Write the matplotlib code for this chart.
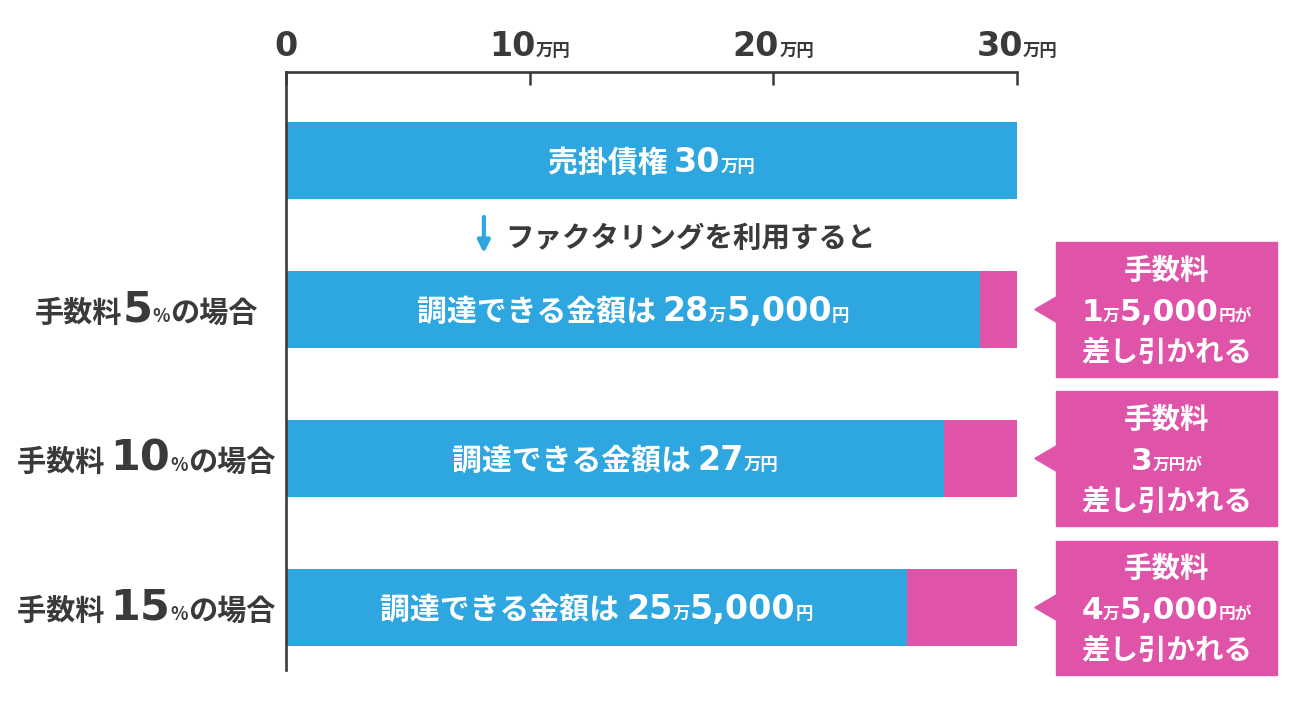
import matplotlib.pyplot as plt
from matplotlib.patches import Rectangle, Polygon
from matplotlib.transforms import offset_copy

plt.rcParams['font.family'] = ['Noto Sans CJK JP', 'DejaVu Sans']

# data
categories = ['売掛債権', '手数料5%の場合', '手数料10%の場合', '手数料15%の場合']
received = [30, 28.5, 27, 25.5]
fee_amount = [0, 1.5, 3, 4.5]
fee_rates = [None, 5, 10, 15]
tick_values = [0, 10, 20, 30]

blue = '#2ea6df'
pink = '#df53a8'
dark = '#3a3a3a'
JP = ['Noto Sans CJK JP', 'DejaVu Sans']
NUM = ['DejaVu Sans']

fig = plt.figure(figsize=(13, 7.02), dpi=100)
ax = fig.add_axes([286 / 1300, 1 - 670 / 702, (1017 - 286) / 1300, (670 - 72) / 702])
renderer = fig.canvas.get_renderer()

ys = list(range(len(categories)))
ax.barh(ys, received, height=0.517, color=blue, zorder=2)
ax.barh(ys, fee_amount, left=received, height=0.517, color=pink, zorder=2)

ax.set_xlim(0, 30)
ax.set_ylim(3.419, -0.594)
ax.xaxis.tick_top()
ax.set_xticks(tick_values)
ax.set_yticks([])
ax.tick_params(axis='x', direction='in', length=9, width=1.8, colors=dark, labeltop=False)
for s in ['bottom', 'right']:
    ax.spines[s].set_visible(False)
for s in ['top', 'left']:
    ax.spines[s].set_color(dark)
    ax.spines[s].set_linewidth(1.9)


def put_runs(x, y, parts, color, trans, ha='center', dy=0):
    texts = []
    for s, size, fam, wt in parts:
        t = ax.text(x, y, s, fontsize=size, color=color, fontweight=wt, family=fam,
                    va='baseline', ha='left', transform=trans, clip_on=False, zorder=5)
        texts.append(t)
    widths = [t.get_window_extent(renderer).width for t in texts]
    total = sum(widths)
    start = {'center': -total / 2, 'left': 0, 'right': -total}[ha]
    for t, w in zip(texts, widths):
        t.set_transform(offset_copy(trans, fig=fig, x=start, y=dy, units='dots'))
        start += w


def yen_parts(v, big, small, tail='円', wt='bold'):
    man = int(v)
    rest = int(round((v - man) * 10000))
    if rest:
        return [(str(man), big, NUM, wt), ('万', small, JP, 'bold'),
                (f'{rest:,}', big, NUM, wt), (tail, small, JP, 'bold')]
    return [(str(man), big, NUM, wt), ('万' + tail, small, JP, 'bold')]


# top tick labels
xt = ax.get_xaxis_transform()
for v in tick_values:
    if v == 0:
        parts = [('0', 24, NUM, 'bold')]
    else:
        parts = [(str(v), 24, NUM, 'bold'), ('万円', 12.5, JP, 'bold')]
    put_runs(v, 1, parts, dark, xt, dy=16)

# bar labels
for i, (cat, r) in enumerate(zip(categories, received)):
    if i == 0:
        parts = [(cat + ' ', 21.5, JP, 'bold')] + yen_parts(r, 24, 12.5)
    else:
        parts = [('調達できる金額は ', 21.5, JP, 'bold')] + yen_parts(r, 24, 12.5)
    put_runs(r / 2, i, parts, 'white', ax.transData, dy=-11)

# left category labels
for i, rate in enumerate(fee_rates):
    if rate is None:
        continue
    sp = ' ' if rate >= 10 else ''
    parts = [('手数料' + sp, 21, JP, 'bold'), (str(rate), 31, NUM, 'bold'),
             ('%', 13, JP, 'bold'), ('の場合', 21, JP, 'bold')]
    put_runs(-5.75, i, parts, dark, ax.transData, dy=-12)

# arrow + text between first rows
ax.annotate('', xy=(8.12, 0.64), xytext=(8.12, 0.36),
            arrowprops=dict(arrowstyle='-|>', color=blue, lw=3, mutation_scale=18),
            annotation_clip=False)
put_runs(9.0, 0.51, [('ファクタリングを利用すると', 20.5, JP, 'bold')], dark, ax.transData,
         ha='left', dy=-10)

# callouts
for i, f in enumerate(fee_amount):
    if f == 0:
        continue
    box = Rectangle((31.6, i - 0.45), 9.07, 0.9, color=pink, clip_on=False, zorder=3)
    ax.add_patch(box)
    tri = Polygon([(30.73, i), (31.62, i - 0.085), (31.62, i + 0.085)], closed=True,
                  color=pink, clip_on=False, zorder=3)
    ax.add_patch(tri)
    cx = 31.6 + 9.07 / 2
    put_runs(cx, i - 0.275, [('手数料', 20.5, JP, 'bold')], 'white', ax.transData, dy=-10)
    put_runs(cx, i, yen_parts(f, 22.5, 12, tail='円が'), 'white', ax.transData, dy=-11)
    put_runs(cx, i + 0.275, [('差し引かれる', 20.5, JP, 'bold')], 'white', ax.transData, dy=-10)

fig.savefig('out.png', dpi=100)
